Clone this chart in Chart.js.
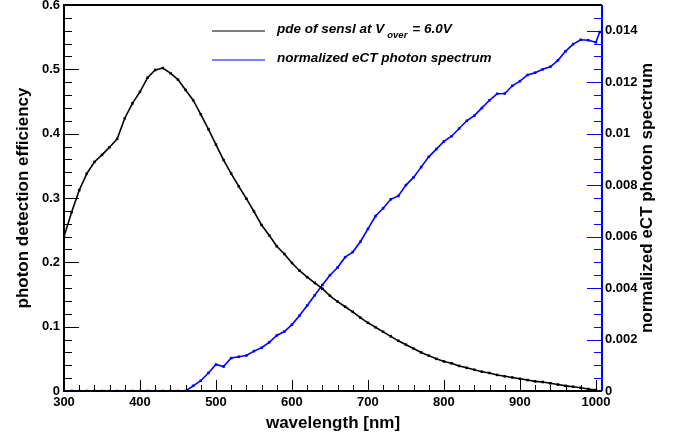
<!DOCTYPE html>
<html>
<head>
<meta charset="utf-8">
<script src="https://cdn.jsdelivr.net/npm/chart.js@4.4.1/dist/chart.umd.min.js"></script>
<style>
  html, body { margin: 0; padding: 0; background: #fff; }
  #wrap { width: 677px; height: 437px; }
</style>
</head>
<body>
<div id="wrap"><canvas id="pdeChart" width="677" height="437"></canvas></div>
<script>
// wavelength samples [nm]
var wavelength = [300, 310, 320, 330, 340, 350, 360, 370, 380, 390,
    400, 410, 420, 430, 440, 450, 460, 470, 480, 490,
    500, 510, 520, 530, 540, 550, 560, 570, 580, 590,
    600, 610, 620, 630, 640, 650, 660, 670, 680, 690,
    700, 710, 720, 730, 740, 750, 760, 770, 780, 790,
    800, 810, 820, 830, 840, 850, 860, 870, 880, 890,
    900, 910, 920, 930, 940, 950, 960, 970, 980, 990, 1000];

// pde of sensl at Vover = 6.0V (left axis)
var pde = [0.240, 0.278, 0.312, 0.338, 0.356, 0.367, 0.379, 0.392, 0.424, 0.447,
    0.465, 0.487, 0.499, 0.502, 0.494, 0.484, 0.468, 0.452, 0.430, 0.407,
    0.383, 0.359, 0.338, 0.318, 0.299, 0.279, 0.258, 0.242, 0.225, 0.213,
    0.199, 0.187, 0.177, 0.168, 0.159, 0.148, 0.139, 0.131, 0.123, 0.114,
    0.106, 0.099, 0.092, 0.085, 0.078, 0.072, 0.066, 0.060, 0.055, 0.050,
    0.046, 0.043, 0.039, 0.036, 0.033, 0.030, 0.028, 0.025, 0.023, 0.021,
    0.019, 0.017, 0.015, 0.014, 0.012, 0.010, 0.008, 0.0067, 0.005, 0.003, 0.0015];

// normalized eCT photon spectrum (right axis), one extra sample at 1005 nm
var spectrumWavelength = wavelength.concat([1005]);
var spectrum = [0, 0, 0, 0, 0, 0, 0, 0, 0, 0,
    0, 0, 0, 0, 0, 0, 0, 0.0002, 0.0004, 0.0007,
    0.00103, 0.00095, 0.00128, 0.00133, 0.00138, 0.00155, 0.00168, 0.00189, 0.00216, 0.00231,
    0.00258, 0.00293, 0.00332, 0.00372, 0.00412, 0.0045, 0.0048, 0.0052, 0.0054, 0.0058,
    0.0063, 0.0068, 0.0071, 0.00745, 0.00758, 0.0080, 0.0083, 0.0087, 0.0091, 0.0094,
    0.0097, 0.0099, 0.0102, 0.0105, 0.0107, 0.0110, 0.0113, 0.01155, 0.01156, 0.01186,
    0.01204, 0.01228, 0.01237, 0.0125, 0.0126, 0.01285, 0.0132, 0.01348, 0.01365, 0.01363,
    0.01355, 0.01395];

// tick labels
var xTickLabels = [300, 400, 500, 600, 700, 800, 900, 1000];
var yTickLabels = [0, 0.1, 0.2, 0.3, 0.4, 0.5, 0.6];
var y1TickLabels = [0, 0.002, 0.004, 0.006, 0.008, 0.01, 0.012, 0.014];

var legendLabels = ['pde of sensl at V', 'normalized eCT photon spectrum'];
var axisTitles = { x: 'wavelength [nm]', y: 'photon detection efficiency', y1: 'normalized eCT photon spectrum' };

var FONT = '"Liberation Sans", Arial, Helvetica, sans-serif';
var BLUE = '#0000ff';

// ROOT style frame: ticks inside the pad, labels, titles and legend
var rootFrame = {
    id: 'rootFrame',
    afterDraw: function (chart) {
        var ctx = chart.ctx, a = chart.chartArea;
        var sx = chart.scales.x, sy = chart.scales.y, sy1 = chart.scales.y1;
        ctx.save();

        function ticks(scale, step, ndiv, majorLen, minorLen, color, side) {
            ctx.strokeStyle = color;
            ctx.lineWidth = 1;
            ctx.beginPath();
            var minor = step / ndiv;
            for (var i = 0; scale.min + i * minor <= scale.max + 1e-9; i++) {
                var v = scale.min + i * minor;
                var len = (i % ndiv === 0) ? majorLen : minorLen;
                var p = Math.round(scale.getPixelForValue(v)) + 0.5;
                if (side === 'bottom') { ctx.moveTo(p, a.bottom); ctx.lineTo(p, a.bottom - len); }
                if (side === 'left') { ctx.moveTo(a.left, p); ctx.lineTo(a.left + len, p); }
                if (side === 'right') { ctx.moveTo(a.right, p); ctx.lineTo(a.right - len, p); }
            }
            ctx.stroke();
        }
        ticks(sx, 100, 5, 11, 6, '#000', 'bottom');
        ticks(sy, 0.1, 5, 15, 8, '#000', 'left');
        ticks(sy1, 0.002, 4, 15, 8, BLUE, 'right');

        // frame
        ctx.lineWidth = 2;
        ctx.strokeStyle = '#000';
        ctx.beginPath();
        ctx.moveTo(a.right, a.top); ctx.lineTo(a.left, a.top);
        ctx.lineTo(a.left, a.bottom); ctx.lineTo(a.right, a.bottom);
        ctx.stroke();
        ctx.strokeStyle = BLUE;
        ctx.beginPath();
        ctx.moveTo(a.right, a.top); ctx.lineTo(a.right, a.bottom);
        ctx.stroke();

        // tick labels
        ctx.fillStyle = '#000';
        ctx.font = 'bold 13px ' + FONT;
        ctx.textBaseline = 'middle';
        ctx.textAlign = 'center';
        xTickLabels.forEach(function (v) { ctx.fillText(String(v), sx.getPixelForValue(v), a.bottom + 11); });
        ctx.textAlign = 'right';
        yTickLabels.forEach(function (v) { ctx.fillText(String(v), a.left - 4, sy.getPixelForValue(v)); });
        ctx.textAlign = 'left';
        y1TickLabels.forEach(function (v) { ctx.fillText(String(v), a.right + 3, sy1.getPixelForValue(v)); });

        // axis titles
        ctx.font = 'bold 17px ' + FONT;
        ctx.textBaseline = 'alphabetic';
        ctx.textAlign = 'center';
        ctx.fillText(axisTitles.x, (a.left + a.right) / 2, 428);
        var midY = (a.top + a.bottom) / 2;
        ctx.save();
        ctx.translate(28, midY); ctx.rotate(-Math.PI / 2);
        ctx.fillText(axisTitles.y, 0, 0);
        ctx.restore();
        ctx.save();
        ctx.translate(652, midY); ctx.rotate(-Math.PI / 2);
        ctx.fillText(axisTitles.y1, 0, 0);
        ctx.restore();

        // legend
        ctx.lineWidth = 1;
        ctx.strokeStyle = '#000';
        ctx.beginPath(); ctx.moveTo(212, 31); ctx.lineTo(265, 31); ctx.stroke();
        ctx.strokeStyle = BLUE;
        ctx.beginPath(); ctx.moveTo(212, 60); ctx.lineTo(265, 60); ctx.stroke();
        ctx.textAlign = 'left';
        var big = 'italic bold 13.5px ' + FONT;
        ctx.font = big;
        var tx = 277;
        ctx.fillText(legendLabels[0], tx, 33);
        tx += ctx.measureText(legendLabels[0]).width + 3;
        ctx.font = 'italic bold 9.5px ' + FONT;
        ctx.fillText('over', tx, 38);
        tx += ctx.measureText('over').width + 5;
        ctx.font = big;
        ctx.fillText('= 6.0V', tx, 33);
        ctx.fillText(legendLabels[1], 277, 62);
        ctx.restore();
    }
};

function fixWidth(w) { return function (scale) { scale.width = w; }; }

var ctx = document.getElementById('pdeChart').getContext('2d');
var chart = new Chart(ctx, {
    type: 'line',
    data: {
        datasets: [{
            label: legendLabels[0],
            data: wavelength.map(function (w, i) { return { x: w, y: pde[i] }; }),
            yAxisID: 'y',
            borderColor: '#000',
            backgroundColor: '#000',
            borderWidth: 1.6,
            pointStyle: 'rect',
            pointRadius: 1.8,
            pointBorderWidth: 0,
            pointBackgroundColor: '#000',
            tension: 0
        }, {
            label: legendLabels[1],
            data: spectrumWavelength.map(function (w, i) { return { x: w, y: spectrum[i] }; }),
            yAxisID: 'y1',
            borderColor: BLUE,
            backgroundColor: BLUE,
            borderWidth: 1.6,
            pointStyle: 'rect',
            pointRadius: 1.8,
            pointBorderWidth: 0,
            pointBackgroundColor: BLUE,
            tension: 0
        }]
    },
    options: {
        responsive: false,
        animation: false,
        layout: { padding: { top: 5, left: 0, right: 0, bottom: 0 } },
        plugins: { legend: { display: false }, tooltip: { enabled: false } },
        scales: {
            x: {
                type: 'linear', position: 'bottom', min: 300, max: 1008,
                grid: { display: false }, border: { display: false },
                ticks: { display: false },
                afterFit: function (scale) { scale.height = 46; }
            },
            y: {
                type: 'linear', position: 'left', min: 0, max: 0.6,
                grid: { display: false }, border: { display: false },
                ticks: { display: false },
                afterFit: fixWidth(64)
            },
            y1: {
                type: 'linear', position: 'right', min: 0, max: 0.015,
                grid: { display: false }, border: { display: false },
                ticks: { display: false },
                afterFit: fixWidth(75)
            }
        }
    },
    plugins: [rootFrame]
});
</script>
</body>
</html>
